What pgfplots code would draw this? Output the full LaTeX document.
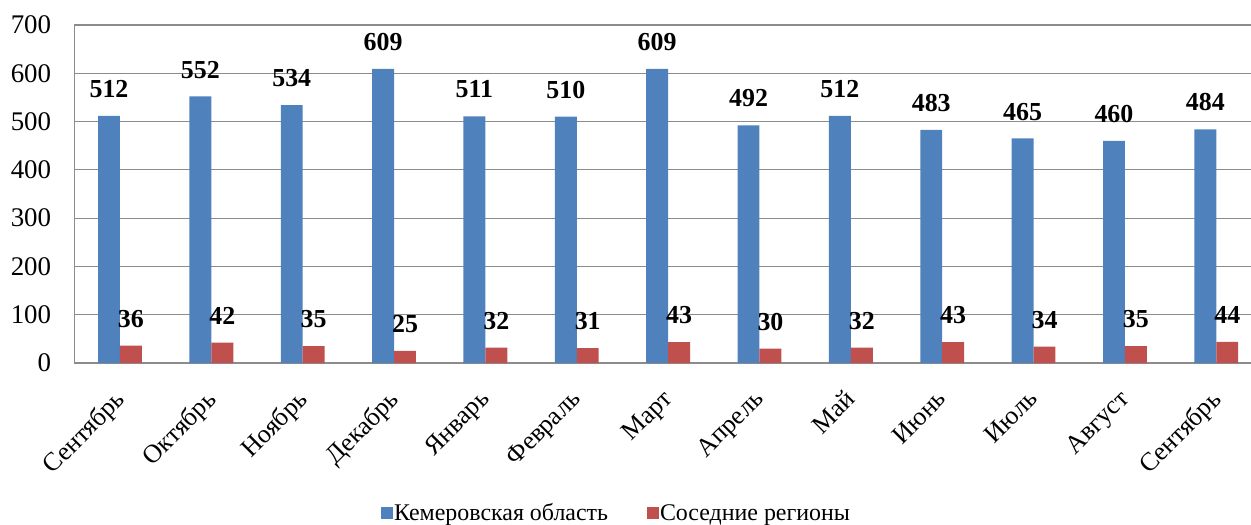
\documentclass[border=0pt]{standalone}
\usepackage{fontspec}
\setmainfont{Liberation Serif}
\usepackage{pgfplots}
\pgfplotsset{compat=1.18}

\definecolor{kemblue}{HTML}{4F81BD}
\definecolor{neired}{HTML}{C0504D}
\definecolor{gridgray}{HTML}{8C8C8C}

\begin{document}
\begin{tikzpicture}
\begin{axis}[
  scale only axis,
  width=1176.7bp, height=338bp,
  xmin=-0.5, xmax=12.38,
  ymin=0, ymax=700,
  ytick={0,100,...,700},
  xtick={0,...,12},
  xticklabels={Сентябрь,Октябрь,Ноябрь,Декабрь,Январь,Февраль,Март,Апрель,Май,Июнь,Июль,Август,Сентябрь},
  axis x line*=bottom, axis y line*=left,
  axis line style={gridgray, line width=1.2bp, -},
  ymajorgrids,
  grid style={gridgray, line width=1.2bp},
  major tick length=0pt,
  /pgf/number format/assume math mode=true,
  yticklabel style={font=\fontsize{27}{30}\selectfont, inner sep=0pt, xshift=-23bp},
  xticklabel style={font=\fontsize{26}{30}\selectfont, xshift=-7bp, yshift=-25bp, rotate=45, anchor=north east, inner sep=0pt},
  ybar, bar width=0.24,
  nodes near coords={\bfseries\pgfmathprintnumber{\pgfplotspointmeta}},
  every node near coord/.append style={font=\fontsize{26}{30}\selectfont, anchor=south, inner sep=0pt, yshift=18bp},
  clip=false,
  legend columns=2,
  legend style={at={(0.4604,-0.444)}, anchor=center, draw=none, fill=none,
    font=\fontsize{24}{28}\selectfont,
    /tikz/every even column/.append style={column sep=37bp},
    nodes={inner sep=1.5bp}},
  legend image code/.code={\fill[#1] (0bp,-6bp) rectangle (12bp,6bp);},
]
\addplot[fill=kemblue, draw=none, bar shift=-0.12] coordinates {
(0,512) (1,552) (2,534) (3,609) (4,511) (5,510) (6,609) (7,492) (8,512) (9,483) (10,465) (11,460) (12,484)};
\addplot[fill=neired, draw=none, bar shift=0.12] coordinates {
(0,36) (1,42) (2,35) (3,25) (4,32) (5,31) (6,43) (7,30) (8,32) (9,43) (10,34) (11,35) (12,44)};
\legend{Кемеровская область, Соседние регионы}
\end{axis}
\pgfresetboundingbox
\path (-74.3bp,-162bp) rectangle (1176.7bp,363bp);
\end{tikzpicture}
\end{document}
